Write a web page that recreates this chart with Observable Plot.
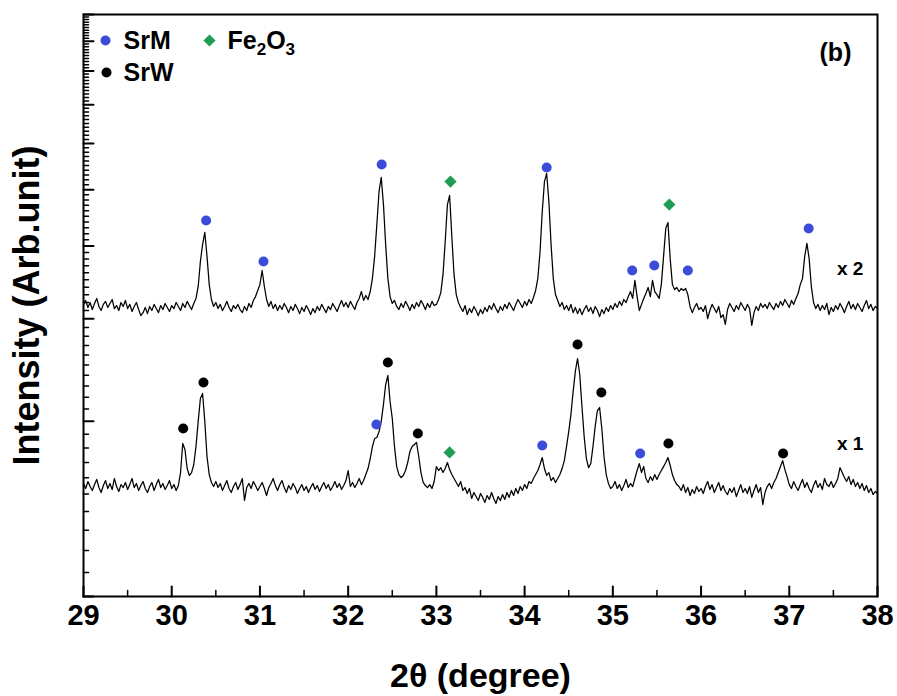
<!DOCTYPE html>
<html><head><meta charset="utf-8">
<script src="https://cdn.jsdelivr.net/npm/d3@7"></script>
<script src="https://cdn.jsdelivr.net/npm/@observablehq/plot@0.6"></script>
<style>
html,body{margin:0;padding:0;background:#fff;}
#chart svg{display:block;}
</style></head><body><div id="chart"></div>
<script>
// XRD scan parameters (2θ, degree)
const scanStart = 29, scanStep = 0.025;
// Upper pattern: raw intensity (arb. unit), displayed × 2
const scaleUpper = 2;
const upperCounts = [
1588,1613,1569,1600,1556,1594,1626,1575,1550,1588,
1607,1569,1594,1619,1562,1581,1550,1600,1575,1613,
1562,1588,1544,1575,1600,1556,1519,1537,1569,1531,
1575,1550,1588,1562,1537,1581,1556,1594,1569,1544,
1581,1562,1600,1575,1550,1594,1569,1607,1581,1556,
1594,1626,1705,1882,2013,2111,1920,1719,1619,1575,
1600,1562,1588,1550,1575,1607,1569,1544,1581,1562,
1588,1556,1537,1575,1550,1594,1569,1613,1638,1678,
1719,1816,1705,1619,1575,1607,1562,1588,1550,1581,
1556,1594,1569,1537,1575,1550,1588,1562,1531,1569,
1544,1581,1556,1525,1562,1537,1575,1550,1588,1562,
1537,1575,1556,1594,1569,1544,1581,1613,1575,1600,
1569,1607,1581,1556,1600,1626,1671,1613,1645,1619,
1671,1760,1920,2178,2483,2624,2357,2013,1760,1638,
1594,1613,1575,1556,1594,1569,1607,1581,1550,1588,
1562,1600,1575,1613,1588,1556,1594,1569,1607,1581,
1588,1619,1664,1788,2037,2357,2444,2078,1788,1651,
1600,1569,1544,1581,1525,1562,1537,1575,1550,1519,
1556,1531,1569,1544,1581,1556,1594,1562,1537,1575,
1550,1588,1562,1600,1575,1550,1588,1619,1594,1569,
1607,1581,1619,1594,1632,1678,1760,1958,2293,2582,
2666,2386,2013,1760,1651,1613,1575,1600,1556,1581,
1550,1588,1537,1569,1531,1562,1525,1556,1581,1544,
1569,1531,1575,1550,1513,1556,1531,1569,1544,1581,
1556,1594,1569,1607,1581,1619,1600,1638,1671,1626,
1746,1638,1550,1588,1626,1658,1698,1638,1746,1671,
1651,1626,1719,1920,2144,2195,1905,1719,1684,1698,
1671,1691,1678,1691,1651,1575,1537,1569,1594,1556,
1569,1544,1581,1501,1550,1588,1562,1537,1575,1507,
1525,1467,1556,1594,1569,1544,1581,1556,1600,1575,
1550,1588,1562,1461,1537,1575,1550,1594,1569,1588,
1562,1600,1575,1556,1594,1569,1607,1581,1619,1594,
1569,1613,1588,1626,1658,1719,1760,1920,2021,1905,
1705,1600,1562,1588,1550,1581,1556,1594,1525,1569,
1544,1581,1556,1594,1569,1537,1575,1607,1562,1588,
1556,1594,1569,1544,1581,1613,1562,1588,1550,1575,
1562];
// Lower pattern: raw intensity (arb. unit), displayed × 1
const scaleLower = 1;
const lowerCounts = [
1564,1533,1576,1545,1521,1557,1589,1539,1509,1551,
1582,1533,1564,1527,1595,1545,1515,1557,1539,1570,
1527,1557,1595,1539,1564,1521,1551,1576,1533,1509,
1545,1570,1521,1557,1589,1539,1564,1527,1551,1582,
1533,1557,1521,1551,1633,1832,1789,1659,1614,1633,
1686,1810,1999,2189,2233,1999,1740,1620,1570,1545,
1576,1539,1564,1521,1551,1582,1533,1509,1545,1570,
1527,1557,1595,1462,1539,1564,1533,1576,1551,1521,
1545,1570,1533,1491,1539,1564,1595,1551,1521,1557,
1582,1539,1509,1551,1527,1564,1539,1503,1533,1557,
1521,1545,1509,1539,1564,1527,1551,1515,1545,1570,
1533,1557,1521,1545,1576,1539,1564,1527,1551,1582,
1646,1545,1570,1539,1564,1595,1557,1582,1620,1659,
1726,1810,1868,1876,1920,1999,2138,2313,2398,2163,
2022,1810,1672,1620,1601,1614,1646,1699,1775,1810,
1825,1839,1740,1633,1570,1551,1539,1557,1533,1576,
1672,1646,1665,1633,1659,1699,1652,1620,1595,1570,
1545,1576,1521,1539,1503,1533,1474,1509,1485,1462,
1503,1480,1451,1491,1468,1509,1474,1445,1485,1462,
1497,1468,1509,1480,1521,1491,1533,1503,1545,1521,
1557,1533,1576,1564,1595,1620,1646,1686,1733,1659,
1614,1633,1582,1601,1570,1595,1620,1659,1712,1810,
1920,2054,2250,2436,2564,2407,2121,1883,1726,1665,
1692,1810,1960,2087,2112,1944,1740,1620,1564,1533,
1545,1576,1533,1557,1521,1551,1589,1539,1564,1545,
1595,1646,1692,1633,1672,1595,1570,1607,1582,1620,
1589,1620,1646,1672,1699,1733,1679,1620,1582,1557,
1545,1521,1557,1509,1539,1491,1527,1503,1545,1515,
1533,1503,1545,1576,1527,1557,1509,1539,1570,1521,
1551,1515,1497,1533,1509,1539,1485,1521,1557,1509,
1533,1503,1545,1480,1521,1557,1509,1539,1439,1509,
1545,1564,1533,1570,1595,1633,1672,1712,1652,1607,
1557,1533,1576,1545,1521,1557,1589,1539,1570,1533,
1509,1551,1582,1539,1564,1527,1595,1557,1545,1576,
1539,1564,1595,1665,1633,1601,1576,1607,1557,1589,
1545,1570,1533,1564,1521,1551,1509,1533,1497,1515,
1503];

// Phase markers (2θ, marker level in raw intensity of its pattern)
const srmUpperX = [30.39, 31.04, 32.38, 34.25, 35.22, 35.47, 35.85, 37.22];
const srmUpperY = [2213, 1882, 2762, 2730, 1816, 1852, 1816, 2144];
const feUpperX = [33.16, 35.64];
const feUpperY = [2582, 2357];
const srwLowerX = [30.13, 30.36, 32.45, 32.79, 34.60, 34.87, 35.63, 36.93];
const srwLowerY = [1944, 2332, 2524, 1906, 2710, 2241, 1832, 1761];
const srmLowerX = [32.32, 34.20, 35.31];
const srmLowerY = [1975, 1818, 1761];
const feLowerX = [33.15];
const feLowerY = [1768];

const xTickValues = [29, 30, 31, 32, 33, 34, 35, 36, 37, 38];
const xTickLabels = ["29", "30", "31", "32", "33", "34", "35", "36", "37", "38"];
const xMinorValues = [29.5, 30.5, 31.5, 32.5, 33.5, 34.5, 35.5, 36.5, 37.5];
const yDomain = [1000, 10000];
const yMajorValues = d3.range(1000, 10001, 1000);
const yMinorValues = d3.range(1000, 10001, 100).filter(v => v % 1000 !== 0);

const scaleLabels = ["x 2", "x 1"];
const scaleLabelX = [37.69, 37.69];
const scaleLabelY = [1830 * scaleUpper, 1832 * scaleLower];

const colSrM = "#3b4cd8", colSrW = "#000000", colFe = "#1f9d55";

const toRows = (arr, s) => arr.map((v, i) => ({t: scanStart + i * scanStep, I: v * s}));
const upper = toRows(upperCounts, scaleUpper);
const lower = toRows(lowerCounts, scaleLower);
const pts = (xs, ys, s) => xs.map((x, i) => ({t: x, I: ys[i] * s}));

const tickShape = {draw(ctx, l) { ctx.moveTo(0, 0); ctx.lineTo(0, -l); }};
const bold = {fontWeight: "bold", fill: "#000", lineAnchor: "middle"};

const chart = Plot.plot({
  width: 897, height: 696,
  marginLeft: 83, marginRight: 20, marginTop: 14, marginBottom: 100,
  style: {fontFamily: "'Liberation Sans', Arial, sans-serif", background: "#fff", overflow: "visible"},
  x: {domain: [29, 38], axis: null},
  y: {type: "log", domain: yDomain, axis: null},
  marks: [
    Plot.line(upper, {x: "t", y: "I", stroke: "#000", strokeWidth: 1.25}),
    Plot.line(lower, {x: "t", y: "I", stroke: "#000", strokeWidth: 1.25}),
    Plot.dot(pts(srmUpperX, srmUpperY, scaleUpper), {x: "t", y: "I", r: 5, fill: colSrM}),
    Plot.dot(pts(feUpperX, feUpperY, scaleUpper), {x: "t", y: "I", r: 5.5, symbol: "diamond2", fill: colFe}),
    Plot.dot(pts(srwLowerX, srwLowerY, scaleLower), {x: "t", y: "I", r: 5, fill: colSrW}),
    Plot.dot(pts(srmLowerX, srmLowerY, scaleLower), {x: "t", y: "I", r: 5, fill: colSrM}),
    Plot.dot(pts(feLowerX, feLowerY, scaleLower), {x: "t", y: "I", r: 5.5, symbol: "diamond2", fill: colFe}),
    Plot.text(scaleLabels, {x: (d, i) => scaleLabelX[i], y: (d, i) => scaleLabelY[i], text: d => d, fontSize: 19, ...bold}),
    // ticks (inward)
    Plot.vector(xTickValues, {x: d => d, frameAnchor: "bottom", length: 10, rotate: 0, anchor: "start", shape: tickShape, stroke: "#000", strokeWidth: 2}),
    Plot.vector(xMinorValues, {x: d => d, frameAnchor: "bottom", length: 6, rotate: 0, anchor: "start", shape: tickShape, stroke: "#000", strokeWidth: 1.5}),
    Plot.vector(yMajorValues, {y: d => d, frameAnchor: "left", length: 10, rotate: 90, anchor: "start", shape: tickShape, stroke: "#000", strokeWidth: 2}),
    Plot.vector(yMinorValues, {y: d => d, frameAnchor: "left", length: 5, rotate: 90, anchor: "start", shape: tickShape, stroke: "#000", strokeWidth: 1.5}),
    Plot.frame({stroke: "#000", strokeWidth: 2}),
    // tick labels and axis titles
    Plot.text(xTickValues, {x: d => d, frameAnchor: "bottom", dy: 19, text: (d, i) => xTickLabels[i], textAnchor: "middle", fontSize: 29, ...bold}),
    Plot.text(["2θ (degree)"], {frameAnchor: "bottom", dy: 80, textAnchor: "middle", fontSize: 34, ...bold}),
    Plot.text(["Intensity (Arb.unit)"], {frameAnchor: "left", dx: -56, rotate: -90, textAnchor: "middle", fontSize: 36, ...bold}),
    // legend
    Plot.dot(["SrM"], {frameAnchor: "top-left", dx: 22, dy: 26, r: 5, fill: colSrM}),
    Plot.text(["SrM"], {frameAnchor: "top-left", dx: 40, dy: 26, textAnchor: "start", fontSize: 25, ...bold}),
    Plot.dot(["SrW"], {frameAnchor: "top-left", dx: 23, dy: 58, r: 5, fill: colSrW}),
    Plot.text(["SrW"], {frameAnchor: "top-left", dx: 40, dy: 58, textAnchor: "start", fontSize: 25, ...bold}),
    Plot.dot(["Fe2O3"], {frameAnchor: "top-left", dx: 126, dy: 26, r: 5.5, symbol: "diamond2", fill: colFe}),
    Plot.text(["Fe2O3"], {frameAnchor: "top-left", dx: 144, dy: 26, textAnchor: "start", fontSize: 25, ...bold}),
    Plot.text(["(b)"], {frameAnchor: "top-right", dx: -42, dy: 38, textAnchor: "middle", fontSize: 25, ...bold})
  ]
});
document.getElementById("chart").appendChild(chart);

// subscripts in Fe2O3
chart.querySelectorAll("text").forEach(t => {
  if (t.textContent === "Fe2O3") {
    while (t.firstChild) t.removeChild(t.firstChild);
    const parts = [["Fe", 0], ["2", 1], ["O", 0], ["3", 1]];
    parts.forEach(([s, sub]) => {
      const ts = document.createElementNS("http://www.w3.org/2000/svg", "tspan");
      ts.textContent = s;
      if (sub) { ts.setAttribute("font-size", "17"); ts.setAttribute("dy", "6"); }
      else if (s === "O") { ts.setAttribute("dy", "-6"); }
      t.appendChild(ts);
    });
  }
});
</script></body></html>
